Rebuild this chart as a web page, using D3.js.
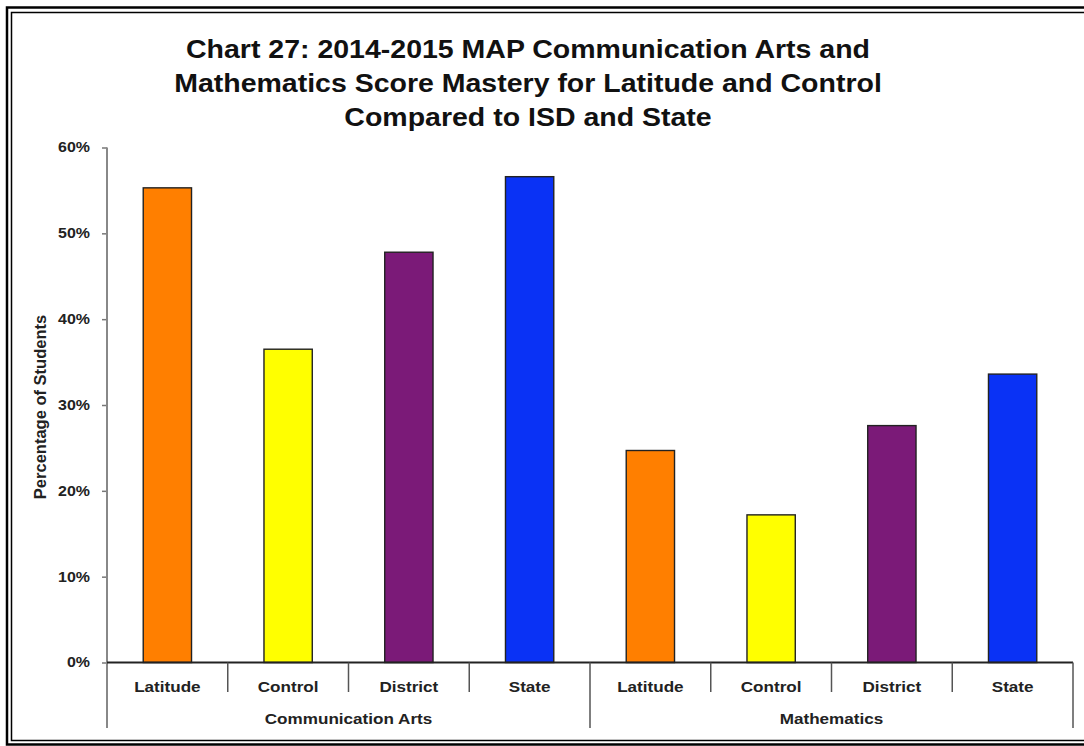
<!DOCTYPE html>
<html>
<head>
<meta charset="utf-8">
<script src="https://cdn.jsdelivr.net/npm/d3@7"></script>
<style>
  html, body { margin: 0; padding: 0; background: #fff; }
  svg { display: block; }
</style>
</head>
<body>
<div id="chart"></div>
<script>
// chart data
const titleLines = [
    "Chart 27: 2014-2015 MAP Communication Arts and",
    "Mathematics Score Mastery for Latitude and Control",
    "Compared to ISD and State"
];
const groups = ["Communication Arts", "Mathematics"];
const categories = ["Latitude", "Control", "District", "State"];
const commArtsValues = [55.3, 36.5, 47.8, 56.6];
const mathValues = [24.7, 17.2, 27.6, 33.6];
const yTicks = [0, 10, 20, 30, 40, 50, 60];
const yLabel = "Percentage of Students";
const barColors = ["#ff7f00", "#ffff00", "#7b1a78", "#0a32f5"];

const width = 1084, height = 746;
const font = "Arial, 'Liberation Sans', sans-serif";
const stretch = 1.14; // the source picture is a bit wide, text looks stretched

const svg = d3.select("#chart").append("svg")
    .attr("width", width)
    .attr("height", height)
    .attr("font-family", font);

// double frame
svg.append("rect").attr("class", "frame-outer")
    .attr("x", 7).attr("y", 7.5).attr("width", 1090).attr("height", 737)
    .attr("fill", "none").attr("stroke", "#000").attr("stroke-width", 2.5);
svg.append("rect").attr("class", "frame-inner")
    .attr("x", 11.5).attr("y", 12.5).attr("width", 1080).attr("height", 728)
    .attr("fill", "none").attr("stroke", "#000").attr("stroke-width", 1.5);

// helper: place stretched text
function stretchedText(sel, xf, yf) {
    return sel.attr("transform", (d, i) => `translate(${xf(d, i)},${yf(d, i)}) scale(${stretch},1)`);
}

// title
stretchedText(
    svg.append("g").attr("class", "title")
        .selectAll("text").data(titleLines).join("text"),
    () => 528, (d, i) => 58 + i * 34)
    .attr("text-anchor", "middle")
    .attr("font-size", 25)
    .attr("font-weight", "bold")
    .attr("fill", "#111")
    .text(d => d);

// flatten
const data = [];
groups.forEach((g, gi) => {
    const vals = gi === 0 ? commArtsValues : mathValues;
    categories.forEach((c, ci) => {
        data.push({ key: g + "-" + c, group: g, cat: c, ci, value: vals[ci] });
    });
});

const plotLeft = 107, plotRight = 1073, plotTop = 147.5, plotBottom = 662.5;

const x = d3.scaleBand()
    .domain(data.map(d => d.key))
    .range([plotLeft, plotRight])
    .paddingInner(0.6)
    .paddingOuter(0.3);

const y = d3.scaleLinear().domain([0, 60]).range([plotBottom, plotTop]);

// y axis
const yAxis = svg.append("g").attr("class", "y-axis")
    .attr("transform", `translate(${plotLeft},0)`)
    .call(d3.axisLeft(y).tickValues(yTicks).tickFormat(d => d + "%").tickSize(5).tickPadding(12));
yAxis.select(".domain").remove();
yAxis.selectAll(".tick line").attr("stroke", "#777").attr("stroke-width", 1.5);
yAxis.selectAll(".tick text")
    .attr("x", null)
    .attr("transform", `translate(-17,0) scale(${stretch},1)`)
    .attr("font-size", 14).attr("font-weight", "bold").attr("fill", "#222")
    .attr("font-family", font);
svg.append("line").attr("class", "y-line")
    .attr("x1", plotLeft).attr("x2", plotLeft)
    .attr("y1", plotTop).attr("y2", 728)
    .attr("stroke", "#888").attr("stroke-width", 2);

svg.append("text").attr("class", "y-label")
    .attr("transform", `translate(46,${(plotTop + plotBottom) / 2 + 2}) rotate(-90)`)
    .attr("text-anchor", "middle")
    .attr("font-size", 16.5)
    .attr("font-weight", "bold")
    .attr("fill", "#222")
    .text(yLabel);

// bars
svg.append("g").attr("class", "bars")
    .selectAll("rect").data(data).join("rect")
    .attr("x", d => x(d.key))
    .attr("y", d => y(d.value))
    .attr("width", x.bandwidth())
    .attr("height", d => y(0) - y(d.value))
    .attr("fill", d => barColors[d.ci])
    .attr("stroke", "#222")
    .attr("stroke-width", 1.4);

// x axis baseline
svg.append("line").attr("class", "x-line")
    .attr("x1", plotLeft).attr("x2", plotRight)
    .attr("y1", plotBottom).attr("y2", plotBottom)
    .attr("stroke", "#222").attr("stroke-width", 2);

const catEdges = d3.range(data.length + 1).map(i => plotLeft + i * (plotRight - plotLeft) / data.length);

// category separators
svg.append("g").attr("class", "cat-ticks")
    .selectAll("line").data(catEdges.slice(1)).join("line")
    .attr("x1", d => d).attr("x2", d => d)
    .attr("y1", plotBottom).attr("y2", (d, i) => (i === 3 || i === 7) ? 728 : 692)
    .attr("stroke", "#555").attr("stroke-width", 1.5);

// category labels
stretchedText(
    svg.append("g").attr("class", "cat-labels")
        .selectAll("text").data(data).join("text"),
    d => x(d.key) + x.bandwidth() / 2, () => 692)
    .attr("text-anchor", "middle")
    .attr("font-size", 15)
    .attr("font-weight", "bold")
    .attr("fill", "#222")
    .text(d => d.cat);

// group labels
stretchedText(
    svg.append("g").attr("class", "group-labels")
        .selectAll("text").data(groups).join("text"),
    (d, i) => (catEdges[i * 4] + catEdges[i * 4 + 4]) / 2, () => 724)
    .attr("text-anchor", "middle")
    .attr("font-size", 15)
    .attr("font-weight", "bold")
    .attr("fill", "#222")
    .text(d => d);
</script>
</body>
</html>
